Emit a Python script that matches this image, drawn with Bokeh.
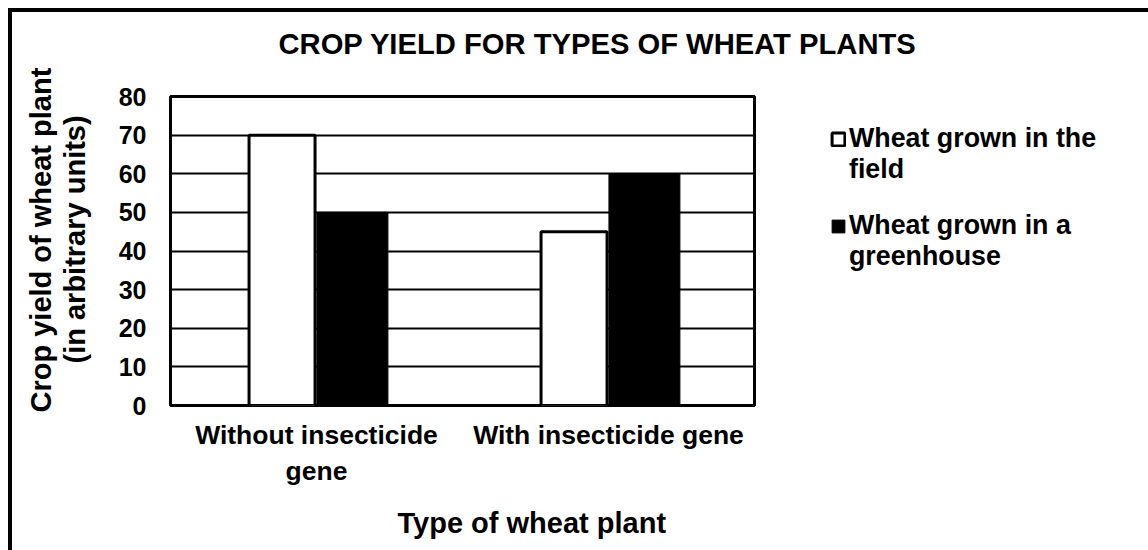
from bokeh.plotting import figure
from bokeh.models import ColumnDataSource, FactorRange, Legend, LegendItem, Title, FixedTicker
from bokeh.transform import dodge
from bokeh.embed import file_html
from bokeh.resources import INLINE

# ---- data ----
categories = ["Without insecticide\ngene", "With insecticide gene"]
field_yield = [70, 45]
greenhouse_yield = [50, 60]
series_lines_field = ["Wheat grown in the", "field"]
series_lines_greenhouse = ["Wheat grown in a", "greenhouse"]
y_ticks = [0, 10, 20, 30, 40, 50, 60, 70, 80]
title_text = "CROP YIELD FOR TYPES OF WHEAT PLANTS"
x_title = "Type of wheat plant"
y_title_lines = ["Crop yield of wheat plant", "(in arbitrary units)"]

FONT = "Liberation Sans"

source = ColumnDataSource(dict(cat=categories, field=field_yield, greenhouse=greenhouse_yield))

p = figure(
    frame_width=584, frame_height=309,
    x_range=FactorRange(factors=categories),
    y_range=(0, 80),
    output_backend="svg", toolbar_location=None,
    min_border_left=158, min_border_right=345,
    min_border_top=84, min_border_bottom=0,
)
p.styles = {"margin-left": "8px", "margin-top": "8px",
            "border-top": "4px solid black", "border-left": "4px solid black"}
p.background_fill_color = "white"
p.border_fill_color = "white"
p.outline_line_color = "black"
p.outline_line_width = 3

r1 = p.vbar(x=dodge("cat", -0.118, range=p.x_range), top="field", width=0.226, bottom=0,
            source=source, fill_color="white", line_color="black", line_width=3)
r2 = p.vbar(x=dodge("cat", 0.123, range=p.x_range), top="greenhouse", width=0.243, bottom=0,
            source=source, fill_color="black", line_color="black", line_width=1)
# invisible renderer used for the continuation lines of the legend labels
blank = p.scatter(x=[], y=[], fill_color=None, line_color=None)

# grid
p.xgrid.visible = False
p.ygrid.ticker = FixedTicker(ticks=y_ticks)
p.ygrid.grid_line_color = "black"
p.ygrid.grid_line_width = 2

# y axis
p.yaxis.ticker = FixedTicker(ticks=y_ticks)
p.yaxis.axis_line_color = None
p.yaxis.major_tick_line_color = None
p.yaxis.minor_tick_line_color = None
p.yaxis.major_label_standoff = 18
p.yaxis.major_label_text_font = FONT
p.yaxis.major_label_text_font_style = "bold"
p.yaxis.major_label_text_font_size = "25px"
p.yaxis.major_label_text_color = "black"

# x axis
p.xaxis.axis_line_color = None
p.xaxis.major_tick_line_color = None
p.xaxis.minor_tick_line_color = None
p.xaxis.major_label_standoff = 8
p.xaxis.major_label_text_font = FONT
p.xaxis.major_label_text_font_style = "bold"
p.xaxis.major_label_text_font_size = "26.5px"
p.xaxis.major_label_text_color = "black"

# title (an empty second line lifts it away from the frame)
p.title.text = title_text + "\n "
p.title.align = "left"
p.title.offset = 108
p.title.text_font = FONT
p.title.text_font_style = "bold"
p.title.text_font_size = "29.2px"
p.title.text_line_height = 1.0
p.title.text_color = "black"
p.title.standoff = 9

# axis titles
p.add_layout(Title(text=x_title, align="left", offset=227, standoff=33,
                   text_font=FONT, text_font_style="bold", text_font_size="29px",
                   text_color="black"), "below")
p.add_layout(Title(text=y_title_lines[1], align="left", offset=42, standoff=50,
                   text_font=FONT, text_font_style="bold", text_font_size="29px",
                   text_color="black"), "left")
p.add_layout(Title(text=y_title_lines[0], align="left", offset=-7, standoff=-50,
                   text_font=FONT, text_font_style="bold", text_font_size="29px",
                   text_color="black"), "left")

# legend
legend = Legend(
    items=[LegendItem(label=series_lines_field[0], renderers=[r1]),
           LegendItem(label=series_lines_field[1], renderers=[blank]),
           LegendItem(label=" ", renderers=[blank]),
           LegendItem(label=series_lines_greenhouse[0], renderers=[r2]),
           LegendItem(label=series_lines_greenhouse[1], renderers=[blank])],
    location=(76, 133),
    margin=0, padding=0, spacing=-3,
    glyph_width=16, glyph_height=16, label_standoff=3,
    label_height=25,
    border_line_alpha=0, background_fill_alpha=0,
    label_text_font=FONT, label_text_font_style="bold",
    label_text_font_size="26.8px", label_text_color="black",
)
p.add_layout(legend, "right")

open("out.html", "w").write(file_html(p, INLINE))
